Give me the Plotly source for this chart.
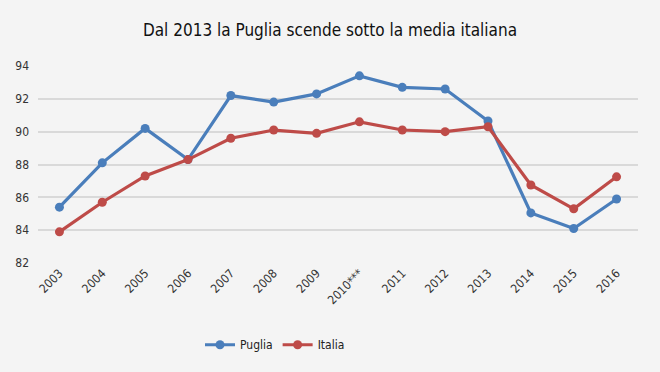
import plotly.graph_objects as go

years = ["2003", "2004", "2005", "2006", "2007", "2008", "2009", "2010***",
         "2011", "2012", "2013", "2014", "2015", "2016"]
puglia = [85.4, 88.1, 90.2, 88.3, 92.2, 91.8, 92.3, 93.4, 92.7, 92.6, 90.65, 85.05, 84.1, 85.9]
italia = [83.9, 85.7, 87.3, 88.3, 89.6, 90.1, 89.9, 90.6, 90.1, 90.0, 90.3, 86.75, 85.3, 87.25]

FONT = "DejaVu Sans Condensed, Liberation Sans Narrow, sans-serif"
fig = go.Figure()
fig.add_trace(go.Scatter(x=years, y=puglia, name="Puglia", mode="lines+markers",
                         line=dict(color="#4a7ebb", width=3.2),
                         marker=dict(size=9, color="#4a7ebb")))
fig.add_trace(go.Scatter(x=years, y=italia, name="Italia", mode="lines+markers",
                         line=dict(color="#be4b48", width=3.2),
                         marker=dict(size=9, color="#be4b48")))

fig.update_layout(
    width=660, height=372,
    paper_bgcolor="#f4f4f4", plot_bgcolor="#f4f4f4",
    margin=dict(l=38, r=22, t=66, b=109, autoexpand=False),
    title=dict(text="Dal 2013 la Puglia scende sotto la media italiana",
               x=0.5, xanchor="center", y=0.92, yanchor="middle",
               font=dict(family=FONT, size=17, color="#111111")),
    font=dict(family=FONT, size=11, color="#333333"),
    showlegend=True,
    legend=dict(orientation="h", x=0.27, xanchor="left", y=-0.415, yanchor="middle",
                itemwidth=30, tracegroupgap=0,
                font=dict(family=FONT, size=12, color="#222222"), bgcolor="rgba(0,0,0,0)"),
    xaxis=dict(type="category", tickangle=-45, showgrid=False, zeroline=False,
               range=[-0.5, len(years) - 0.5],
               showline=False, ticks="", tickfont=dict(size=12), automargin=False),
    yaxis=dict(range=[82, 94], dtick=2, showgrid=True, gridcolor="#d9d9d9", gridwidth=1.5,
               zeroline=False, showline=False, ticks="", tickfont=dict(size=12),
               ticklabelstandoff=8, automargin=False),
)
fig.write_html("out.html", config={"displayModeBar": False},
               post_script="document.body.style.margin='0';document.body.style.background='#f4f4f4';")
